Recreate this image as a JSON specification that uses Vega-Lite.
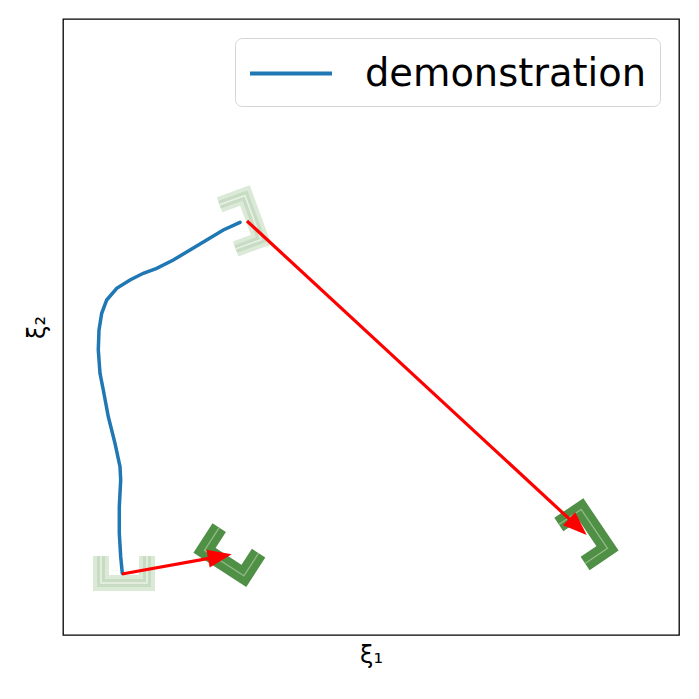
{
  "$schema": "https://vega.github.io/schema/vega-lite/v6.json",
  "width": 616,
  "height": 616,
  "autosize": {"type": "none"},
  "padding": {"left": 63, "top": 19, "right": 20, "bottom": 64},
  "config": {
    "view": {"stroke": "black", "strokeWidth": 1.3},
    "font": "DejaVu Sans",
    "legend": {"orient": "top-right", "offset": 19, "symbolType": "M-1,0L3,0", "symbolStrokeWidth": 4, "symbolSize": 1681, "labelFontSize": 38.4, "labelFont": "DejaVu Sans", "labelColor": "black", "labelLimit": 0, "padding": 13, "strokeColor": "#d5d5d5", "cornerRadius": 7, "fillColor": "white", "labelOffset": 72}
  },
  "datasets": {
    "demo": [
      {"i": 0, "x": 177, "y": 412.7, "series": "demonstration"},
      {"i": 1, "x": 160.3, "y": 405, "series": "demonstration"},
      {"i": 2, "x": 143.7, "y": 395, "series": "demonstration"},
      {"i": 3, "x": 127, "y": 385, "series": "demonstration"},
      {"i": 4, "x": 110.3, "y": 375, "series": "demonstration"},
      {"i": 5, "x": 93.7, "y": 366.7, "series": "demonstration"},
      {"i": 6, "x": 80.3, "y": 361.7, "series": "demonstration"},
      {"i": 7, "x": 67, "y": 355, "series": "demonstration"},
      {"i": 8, "x": 53.7, "y": 346.7, "series": "demonstration"},
      {"i": 9, "x": 43.7, "y": 335, "series": "demonstration"},
      {"i": 10, "x": 38.7, "y": 321.7, "series": "demonstration"},
      {"i": 11, "x": 36, "y": 305, "series": "demonstration"},
      {"i": 12, "x": 35.3, "y": 285, "series": "demonstration"},
      {"i": 13, "x": 37, "y": 261.7, "series": "demonstration"},
      {"i": 14, "x": 40.3, "y": 245, "series": "demonstration"},
      {"i": 15, "x": 45.3, "y": 218.3, "series": "demonstration"},
      {"i": 16, "x": 52, "y": 191.7, "series": "demonstration"},
      {"i": 17, "x": 57, "y": 168.3, "series": "demonstration"},
      {"i": 18, "x": 57.7, "y": 155, "series": "demonstration"},
      {"i": 19, "x": 56.3, "y": 128.3, "series": "demonstration"},
      {"i": 20, "x": 56.3, "y": 101.7, "series": "demonstration"},
      {"i": 21, "x": 57.7, "y": 78.3, "series": "demonstration"},
      {"i": 22, "x": 59.3, "y": 61.7, "series": "demonstration"}
    ],
    "grippers": [
      {"g": "G1", "kind": "light", "i": 0, "x": 38, "y": 79},
      {"g": "G1", "kind": "light", "i": 1, "x": 38, "y": 52},
      {"g": "G1", "kind": "light", "i": 2, "x": 84, "y": 52},
      {"g": "G1", "kind": "light", "i": 3, "x": 84, "y": 79},
      {"g": "G2", "kind": "light", "i": 0, "x": 156.6, "y": 430.3},
      {"g": "G2", "kind": "light", "i": 1, "x": 182, "y": 439.5},
      {"g": "G2", "kind": "light", "i": 2, "x": 198.1, "y": 395.3},
      {"g": "G2", "kind": "light", "i": 3, "x": 172.7, "y": 386.1},
      {"g": "G3", "kind": "dark", "i": 0, "x": 156.2, "y": 107.4},
      {"g": "G3", "kind": "dark", "i": 1, "x": 141.5, "y": 84.7},
      {"g": "G3", "kind": "dark", "i": 2, "x": 180.9, "y": 59.1},
      {"g": "G3", "kind": "dark", "i": 3, "x": 195.6, "y": 81.8},
      {"g": "G4", "kind": "dark", "i": 0, "x": 495.8, "y": 110.5},
      {"g": "G4", "kind": "dark", "i": 1, "x": 518.2, "y": 125.6},
      {"g": "G4", "kind": "dark", "i": 2, "x": 544.5, "y": 86.6},
      {"g": "G4", "kind": "dark", "i": 3, "x": 522.1, "y": 71.5}
    ],
    "arrows": [
      {"a": "A1", "x": 59, "y": 61, "x2": 156.9, "y2": 78.6, "angle": 349.8},
      {"a": "A2", "x": 184, "y": 414, "x2": 514.9, "y2": 108.1, "angle": 42.75}
    ]
  },
  "layer": [
    {
      "data": {"name": "grippers"},
      "transform": [{"filter": "datum.kind == 'light'"}],
      "mark": {"type": "line", "strokeWidth": 16, "color": "#dbe9d7", "strokeJoin": "miter", "strokeCap": "butt"},
      "encoding": {
        "x": {"field": "x", "type": "quantitative", "scale": {"domain": [0, 616], "nice": false, "zero": false}, "axis": {"title": "ξ₁", "titlePadding": 8, "titleFontSize": 24, "titleFontWeight": "normal", "titleColor": "black", "titleFont": "DejaVu Sans", "ticks": false, "labels": false, "domain": false, "grid": false}},
        "y": {"field": "y", "type": "quantitative", "scale": {"domain": [0, 616], "nice": false, "zero": false}, "axis": {"title": "ξ₂", "titlePadding": 14, "titleFontSize": 24, "titleFontWeight": "normal", "titleColor": "black", "titleFont": "DejaVu Sans", "ticks": false, "labels": false, "domain": false, "grid": false}},
        "detail": {"field": "g"},
        "order": {"field": "i", "type": "quantitative"}
      }
    },
    {
      "data": {"name": "grippers"},
      "transform": [{"filter": "datum.kind == 'light'"}],
      "mark": {"type": "line", "strokeWidth": 8, "color": "#c8dcc3", "strokeJoin": "miter", "strokeCap": "butt"},
      "encoding": {
        "x": {"field": "x", "type": "quantitative"},
        "y": {"field": "y", "type": "quantitative"},
        "detail": {"field": "g"},
        "order": {"field": "i", "type": "quantitative"}
      }
    },
    {
      "data": {"name": "grippers"},
      "transform": [{"filter": "datum.kind == 'light'"}],
      "mark": {"type": "line", "strokeWidth": 1.5, "color": "#eaf2e8", "strokeJoin": "miter", "strokeCap": "butt"},
      "encoding": {
        "x": {"field": "x", "type": "quantitative"},
        "y": {"field": "y", "type": "quantitative"},
        "detail": {"field": "g"},
        "order": {"field": "i", "type": "quantitative"}
      }
    },
    {
      "data": {"name": "grippers"},
      "transform": [{"filter": "datum.kind == 'dark'"}],
      "mark": {"type": "line", "strokeWidth": 16, "color": "#4f8f46", "strokeJoin": "miter", "strokeCap": "butt"},
      "encoding": {
        "x": {"field": "x", "type": "quantitative"},
        "y": {"field": "y", "type": "quantitative"},
        "detail": {"field": "g"},
        "order": {"field": "i", "type": "quantitative"}
      }
    },
    {
      "data": {"name": "grippers"},
      "transform": [{"filter": "datum.kind == 'dark'"}],
      "mark": {"type": "line", "strokeWidth": 1.3, "color": "#8fbb83", "strokeJoin": "miter", "strokeCap": "butt"},
      "encoding": {
        "x": {"field": "x", "type": "quantitative"},
        "y": {"field": "y", "type": "quantitative"},
        "detail": {"field": "g"},
        "order": {"field": "i", "type": "quantitative"}
      }
    },
    {
      "data": {"name": "demo"},
      "mark": {"type": "line", "strokeWidth": 3.5, "strokeCap": "round"},
      "encoding": {
        "x": {"field": "x", "type": "quantitative"},
        "y": {"field": "y", "type": "quantitative"},
        "order": {"field": "i", "type": "quantitative"},
        "color": {"field": "series", "type": "nominal", "scale": {"range": ["#1f77b4"]}, "legend": {"title": null}}
      }
    },
    {
      "data": {"name": "arrows"},
      "mark": {"type": "rule", "color": "red", "strokeWidth": 3.2},
      "encoding": {
        "x": {"field": "x", "type": "quantitative"},
        "y": {"field": "y", "type": "quantitative"},
        "x2": {"field": "x2"},
        "y2": {"field": "y2"}
      }
    },
    {
      "data": {"name": "arrows"},
      "mark": {"type": "point", "shape": "M1,0L-1,-0.75L-1,0.75Z", "size": 576, "filled": true, "color": "red", "opacity": 1, "strokeWidth": 0},
      "encoding": {
        "x": {"field": "x2", "type": "quantitative"},
        "y": {"field": "y2", "type": "quantitative"},
        "angle": {"field": "angle", "type": "quantitative", "scale": null}
      }
    }
  ]
}
